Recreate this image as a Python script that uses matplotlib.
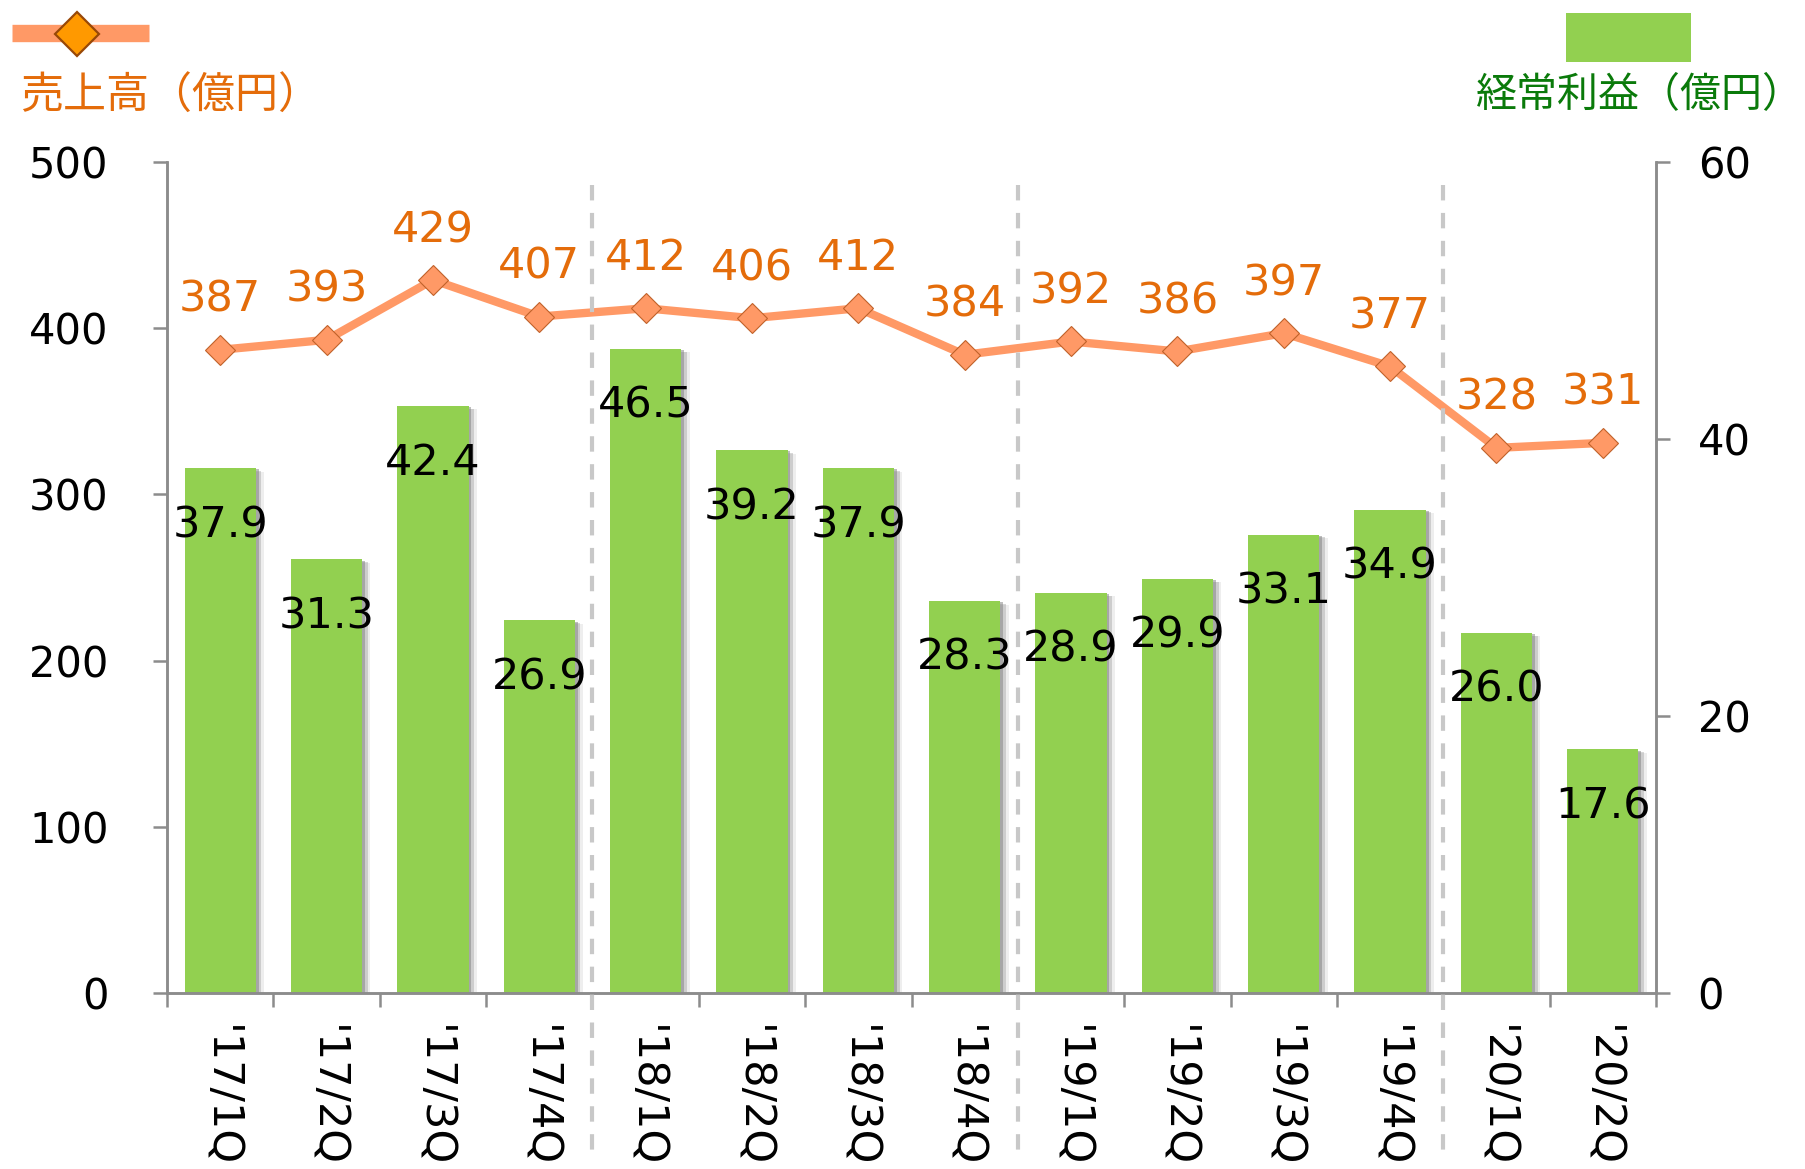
import matplotlib
matplotlib.use("Agg")
import matplotlib.pyplot as plt
import matplotlib.patheffects as pe
from matplotlib.lines import Line2D
from matplotlib.patches import Rectangle
import numpy as np

categories = ["'17/1Q", "'17/2Q", "'17/3Q", "'17/4Q",
              "'18/1Q", "'18/2Q", "'18/3Q", "'18/4Q",
              "'19/1Q", "'19/2Q", "'19/3Q", "'19/4Q",
              "'20/1Q", "'20/2Q"]
sales = [387, 393, 429, 407, 412, 406, 412, 384, 392, 386, 397, 377, 328, 331]
profit = [37.9, 31.3, 42.4, 26.9, 46.5, 39.2, 37.9, 28.3, 28.9, 29.9, 33.1, 34.9, 26.0, 17.6]
sales_ticks = [0, 100, 200, 300, 400, 500]
profit_ticks = [0, 20, 40, 60]
year_breaks = [3.5, 7.5, 11.5]

W, H = 1805, 1169
fig = plt.figure(figsize=(W / 100, H / 100), dpi=100)
plt.rcParams['font.family'] = ['DejaVu Sans']

left, right, bottom, top = 167 / W, 1656 / W, 1 - 993 / H, 1 - 162 / H
ax = fig.add_axes([left, bottom, right - left, top - bottom])
ax2 = ax.twinx()

BAR = '#92D050'
LINE = '#FF9966'
ORANGE = '#E46C0A'
GREEN = '#0A7A0A'
AXC = '#8C8C8C'
FS = 31

x = np.arange(len(categories))

# bars on ax (right-hand scale)
shadow = [pe.SimplePatchShadow(offset=(2, -1), shadow_rgbFace='#707070', alpha=0.45),
          pe.SimplePatchShadow(offset=(4, -2), shadow_rgbFace='#808080', alpha=0.3),
          pe.SimplePatchShadow(offset=(6, -2.5), shadow_rgbFace='#909090', alpha=0.15),
          pe.Normal()]
bars = ax.bar(x, profit, width=0.67, color=BAR, zorder=2)
for b in bars:
    b.set_path_effects(shadow)
ax.set_ylim(0, 60)
ax.set_xlim(-0.5, len(categories) - 0.5)
for xi, v in zip(x, profit):
    ax.annotate(f"{v:.1f}", (xi, v), xytext=(0, -41), textcoords='offset points',
                ha='center', va='center', fontsize=FS, color='black', zorder=5)

# line on ax2 (left-hand scale)
ax2.plot(x, sales, color=LINE, lw=6, marker='D', markersize=15.5,
         markerfacecolor=LINE, markeredgecolor='#C0622A', markeredgewidth=0.8, zorder=4)
ax2.set_ylim(0, 500)
for xi, v in zip(x, sales):
    ax2.annotate(f"{v}", (xi, v), xytext=(0, 36), textcoords='offset points',
                 ha='center', va='center', fontsize=FS, color=ORANGE)

# axis placement: ax (bars) -> right, ax2 (line) -> left
ax.yaxis.tick_right()
ax2.yaxis.tick_left()
ax.set_yticks(profit_ticks)
ax.set_yticklabels([str(t) for t in profit_ticks])
ax2.set_yticks(sales_ticks)
ax2.set_yticklabels([str(t) for t in sales_ticks])

for a in (ax, ax2):
    a.spines['top'].set_visible(False)
    for s in ('left', 'right', 'bottom'):
        a.spines[s].set_color(AXC)
        a.spines[s].set_linewidth(1.8)
    a.tick_params(axis='y', colors=AXC, labelcolor='black', labelsize=30, length=10, width=1.8)
ax.tick_params(axis='y', pad=20)
ax2.tick_params(axis='y', pad=32)

ax.set_xticks(x)
ax.set_xticklabels(categories, rotation=-90, fontsize=FS)
ax.set_xticks(np.arange(-0.5, len(categories)), minor=True)
ax.tick_params(axis='x', which='major', length=0, pad=23)
ax.tick_params(axis='x', which='minor', length=10, width=1.8, color=AXC)
ax2.tick_params(axis='x', length=0)

# year-break dashed lines (span into label area)
for xb in year_breaks:
    xf = left + (xb + 0.5) / len(categories) * (right - left)
    fig.add_artist(Line2D([xf, xf], [1 - 185 / H, 1 - 1152 / H], transform=fig.transFigure,
                          color='#C8C8C8', lw=3, linestyle=(0, (3.7, 3)), zorder=1))

# legends (manual)
fig.add_artist(Line2D([12 / W, 149 / W], [1 - 33 / H, 1 - 33 / H], transform=fig.transFigure,
                      color=LINE, lw=12.5, solid_capstyle='butt'))
fig.add_artist(Line2D([77 / W], [1 - 34 / H], transform=fig.transFigure, marker='D',
                      markersize=22, markerfacecolor='#FF9900', markeredgecolor='#984807',
                      markeredgewidth=1.6, linestyle='none'))
fig.text(20 / W, 1 - 97 / H, "売上高（億円）", fontsize=31, color=ORANGE,
         family=['Noto Sans CJK JP', 'DejaVu Sans'], ha='left', va='center')
fig.add_artist(Rectangle((1566 / W, 1 - 62 / H), 125 / W, 49 / H, transform=fig.transFigure,
                         facecolor=BAR, edgecolor='none'))
fig.text(1476 / W, 1 - 96 / H, "経常利益（億円）", fontsize=29.5, color=GREEN,
         family=['Noto Sans CJK JP', 'DejaVu Sans'], ha='left', va='center')

fig.savefig('out.png', dpi=100)
